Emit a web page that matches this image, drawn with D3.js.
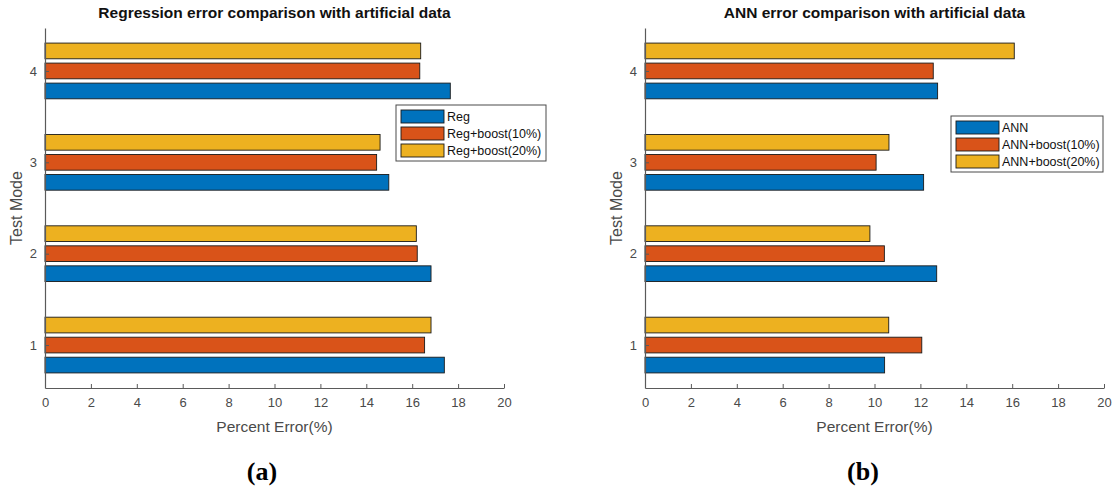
<!DOCTYPE html>
<html>
<head>
<meta charset="utf-8">
<script src="https://cdn.jsdelivr.net/npm/d3@7"></script>
<style>
  html, body { margin: 0; padding: 0; background: #fff; }
  svg { display: block; }
</style>
</head>
<body>
<svg id="chart" width="1114" height="489"></svg>
<script>
// Test modes on the vertical axis
const modes = [1, 2, 3, 4];
const xTicks = [0, 2, 4, 6, 8, 10, 12, 14, 16, 18, 20];

// Panel (a): regression percent error
const regTitle = "Regression error comparison with artificial data";
const regNames = ["Reg", "Reg+boost(10%)", "Reg+boost(20%)"];
const regBase = [17.4, 16.82, 14.98, 17.66];
const regBoost10 = [16.54, 16.22, 14.45, 16.33];
const regBoost20 = [16.82, 16.18, 14.6, 16.37];

// Panel (b): ANN percent error
const annTitle = "ANN error comparison with artificial data";
const annNames = ["ANN", "ANN+boost(10%)", "ANN+boost(20%)"];
const annBase = [10.44, 12.71, 12.14, 12.75];
const annBoost10 = [12.06, 10.43, 10.07, 12.56];
const annBoost20 = [10.62, 9.8, 10.63, 16.09];

const colors = ["#0072BD", "#D95319", "#EDB120"];
const axisGrey = "#5a5a5a";
const textGrey = "#4a4a4a";
const sans = "'Liberation Sans', Arial, Helvetica, sans-serif";
const serif = "'Liberation Serif', 'Times New Roman', serif";

const svg = d3.select("#chart");

function drawPanel(cfg) {
  const g = svg.append("g").attr("transform", `translate(${cfg.dx},0)`);
  const x = d3.scaleLinear().domain([0, 20]).range([45, 504]);
  const y = d3.scaleLinear().domain([0.53, 4.47]).range([388, 28]);

  const series = [cfg.base, cfg.b10, cfg.b20];
  const offsets = [-0.219, 0, 0.219];
  const thick = 0.172;

  series.forEach((vals, si) => {
    g.append("g").selectAll("rect")
      .data(modes.map((m, i) => ({ m, v: vals[i] })))
      .join("rect")
      .attr("x", x(0))
      .attr("y", d => y(d.m + offsets[si] + thick / 2))
      .attr("width", d => x(d.v) - x(0))
      .attr("height", d => y(d.m + offsets[si] - thick / 2) - y(d.m + offsets[si] + thick / 2))
      .attr("fill", colors[si])
      .attr("stroke", "#1a1a1a")
      .attr("stroke-width", 0.9);
  });

  // Axes
  const xAxis = d3.axisBottom(x).tickValues(xTicks).tickFormat(d3.format("d"))
    .tickSizeInner(-4).tickSizeOuter(0).tickPadding(10);
  const gx = g.append("g").attr("transform", "translate(0,388)").call(xAxis);
  const yAxis = d3.axisLeft(y).tickValues(modes).tickFormat(d3.format("d"))
    .tickSizeInner(-4).tickSizeOuter(0).tickPadding(8);
  const gy = g.append("g").attr("transform", "translate(45,0)").call(yAxis);
  [gx, gy].forEach(a => {
    a.attr("font-family", null).attr("font-size", null);
    a.select(".domain").attr("stroke", axisGrey).attr("stroke-width", 1.2);
    a.selectAll(".tick line").attr("stroke", axisGrey);
    a.selectAll(".tick text").attr("fill", textGrey)
      .style("font-size", "13px").style("font-family", sans);
  });

  // Title
  g.append("text")
    .attr("x", 274.5).attr("y", 18)
    .attr("text-anchor", "middle")
    .style("font-family", sans).style("font-weight", "bold").style("font-size", "15.5px")
    .attr("fill", "#111")
    .text(cfg.title);

  // Axis labels
  g.append("text")
    .attr("x", 274.5).attr("y", 432)
    .attr("text-anchor", "middle")
    .style("font-family", sans).style("font-size", "15.5px")
    .attr("fill", textGrey)
    .text("Percent Error(%)");
  g.append("text")
    .attr("transform", "translate(22,208) rotate(-90)")
    .attr("text-anchor", "middle")
    .style("font-family", sans).style("font-size", "16px")
    .attr("fill", textGrey)
    .text("Test Mode");

  // Legend
  const lg = g.append("g").attr("transform", `translate(${cfg.legX},${cfg.legY})`);
  lg.append("rect")
    .attr("x", 0).attr("y", 0)
    .attr("width", cfg.legW).attr("height", 56)
    .attr("fill", "#fff").attr("stroke", "#4a4a4a").attr("stroke-width", 1);
  cfg.names.forEach((name, i) => {
    const cy = 11.5 + i * 17;
    lg.append("rect")
      .attr("x", 5).attr("y", cy - 6.5)
      .attr("width", 43).attr("height", 13)
      .attr("fill", colors[i]).attr("stroke", "#1a1a1a").attr("stroke-width", 0.9);
    lg.append("text")
      .attr("x", 51).attr("y", cy + 4.5)
      .style("font-family", sans).style("font-size", "12.5px")
      .attr("fill", "#111")
      .text(name);
  });

  // Panel caption
  svg.append("text")
    .attr("x", cfg.dx + cfg.capX).attr("y", 480)
    .attr("text-anchor", "middle")
    .style("font-family", serif).style("font-weight", "bold").style("font-size", "26px")
    .attr("fill", "#000")
    .text(cfg.caption);
}

drawPanel({ dx: 0, title: regTitle, names: regNames, base: regBase, b10: regBoost10, b20: regBoost20,
  legX: 396, legY: 105, legW: 150, caption: "(a)", capX: 262 });
drawPanel({ dx: 600, title: annTitle, names: annNames, base: annBase, b10: annBoost10, b20: annBoost20,
  legX: 351, legY: 116, legW: 152, caption: "(b)", capX: 263 });
</script>
</body>
</html>
